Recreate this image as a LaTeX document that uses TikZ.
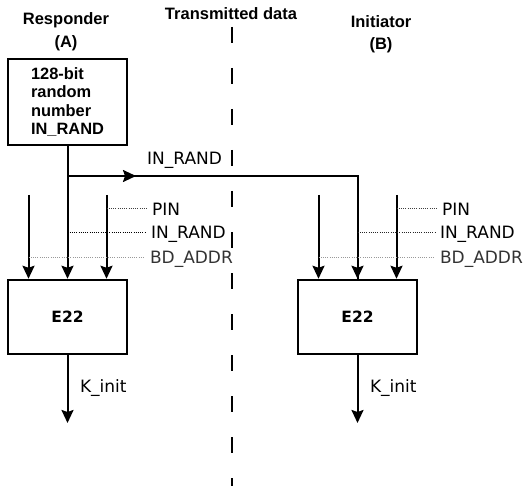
\documentclass[tikz,border=0pt]{standalone}
\usepackage{fontspec}
\setmainfont{DejaVu Sans}
\newfontfamily\hdrfont{Liberation Sans}
\usetikzlibrary{arrows.meta}
\begin{document}
\begin{tikzpicture}[x=1pt,y=-1pt,
  box/.style={draw,line width=2.5pt,minimum width=119pt,minimum height=74pt,inner sep=0pt},
  hdr/.style={font=\hdrfont\bfseries\fontsize{16.5}{22.5}\selectfont,inner sep=0pt,align=center},
  lbl/.style={font=\fontsize{17}{20}\selectfont,inner sep=0pt,outer sep=5pt,anchor=west,text height=12.4pt,text depth=0pt},
  conn/.style={line width=2pt},
  arr/.style={conn,-{Stealth[length=13pt,width=12pt,inset=2pt]}},
  dots/.style={line width=1pt,dash pattern=on 1pt off 1.2pt}
]
\useasboundingbox (0,0) rectangle (524,486);
% headers
\node[hdr] (resp) at (66,31.5) {Responder\\(A)};
\node[hdr] (trans) at (231,14) {Transmitted data};
\node[hdr] (init) at (381,34) {Initiator\\(B)};
% divider
\coordinate (dtop) at (232,27);
\coordinate (dbot) at (232,486);
\draw[line width=2pt,dash pattern=on 16pt off 25pt] (dtop) -- (dbot);
% random number box
\node[draw,line width=2.5pt,minimum width=119pt,minimum height=86pt,inner sep=0pt,align=left,
  font=\hdrfont\bfseries\fontsize{16.4}{18.5}\selectfont] (rnd) at (67.5,102) {128-bit\\random\\number\\IN\_RAND};
% E22 boxes
\node[box,font=\bfseries\fontsize{15.5}{18}\selectfont] (e22a) at (67.5,317) {E22};
\node[box,font=\bfseries\fontsize{15.5}{18}\selectfont] (e22b) at (357.5,317) {E22};
% side arrow tops
\coordinate (a1) at (28.5,195);
\coordinate (a3) at (106.5,195);
\coordinate (b1) at (318.5,195);
\coordinate (b3) at (396.5,195);
% connectors
\draw[arr] (rnd.south) -- (e22a.north);
\coordinate (j) at (67.5,176);
\coordinate (jm) at (136,176);
\draw[conn] (j) -| (e22b.north);
\draw[arr] (j) -- (jm);
\draw[arr] (e22b.north |- j) -- (e22b.north);
\draw[arr] (a1) -- (a1 |- e22a.north);
\draw[arr] (a3) -- (a3 |- e22a.north);
\draw[arr] (b1) -- (b1 |- e22b.north);
\draw[arr] (b3) -- (b3 |- e22b.north);
% labels
\node[font=\fontsize{17}{20}\selectfont,inner sep=0pt,anchor=west,text height=12.4pt,text depth=0pt] (tlbl) at (147,158) {IN\_RAND};
\node[lbl] (pinA) at (147,209) {PIN};
\node[lbl] (randA) at (146,232) {IN\_RAND};
\node[lbl,text=black!80] (bdA) at (145,257) {BD\_ADDR};
\node[lbl] (pinB) at (437,209) {PIN};
\node[lbl] (randB) at (435,232) {IN\_RAND};
\node[lbl,text=black!80] (bdB) at (435,257) {BD\_ADDR};
\draw[dots,black!75] (pinA.west -| a3) -- (pinA.west);
\draw[dots] (randA.west -| e22a.north) -- (randA.west);
\draw[dots,black!40] (bdA.west -| a1) -- (bdA.west);
\draw[dots,black!75] (pinB.west -| b3) -- (pinB.west);
\draw[dots,black!85] (randB.west -| e22b.north) -- (randB.west);
\draw[dots,black!40] (bdB.west -| b1) -- (bdB.west);
% outputs
\coordinate (ka) at (67.5,423);
\coordinate (kb) at (357.5,423);
\draw[arr] (e22a.south) -- (ka);
\draw[arr] (e22b.south) -- (kb);
\node[lbl,outer sep=0pt] (kla) at (80,386) {K\_init};
\node[lbl,outer sep=0pt] (klb) at (370,386) {K\_init};
\end{tikzpicture}
\end{document}
